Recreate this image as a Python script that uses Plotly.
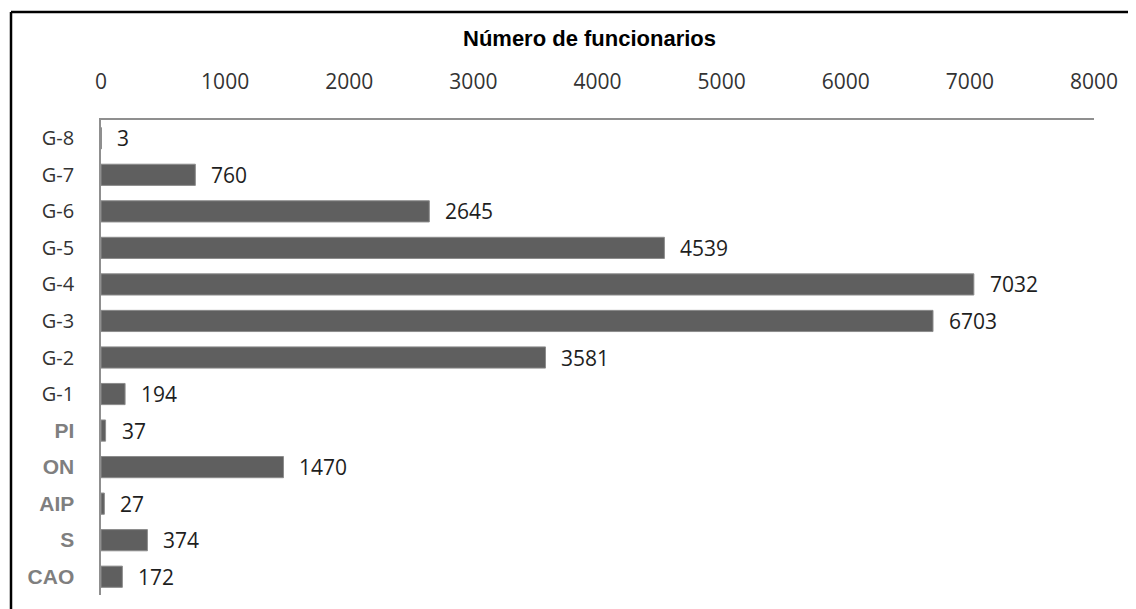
import plotly.graph_objects as go

categories = ["G-8", "G-7", "G-6", "G-5", "G-4", "G-3", "G-2", "G-1",
              "PI", "ON", "AIP", "S", "CAO"]
values = [3, 760, 2645, 4539, 7032, 6703, 3581, 194, 37, 1470, 27, 374, 172]
bold_grey = {"PI", "ON", "AIP", "S", "CAO"}
x_ticks = [0, 1000, 2000, 3000, 4000, 5000, 6000, 7000, 8000]

W, H = 1136, 609
# the page body adds an 8px offset, so figure coords = screen coords - 8
OFF = 8
L, T = 101 - OFF, 120 - OFF
R = W - (1094 - OFF)
B = H - (595 - OFF)
pw, ph = W - L - R, H - T - B

NUM_FONT = "Open Sans"
BOLD_FONT = "Liberation Sans"


def tick_label(cat):
    if cat in bold_grey:
        return (f"<span style='font-family:{BOLD_FONT};font-weight:bold;"
                f"font-size:21px;fill:#7f7f7f'>{cat}</span>")
    return cat


fig = go.Figure()
fig.add_trace(
    go.Bar(
        x=values,
        y=categories,
        orientation="h",
        marker=dict(color="#5f5f5f", line=dict(color="#8c8c8c", width=1)),
        hoverinfo="x+y",
        showlegend=False,
    )
)

# value labels just past the end of each bar
for cat, v in zip(categories, values):
    fig.add_annotation(
        x=v, y=cat, xref="x", yref="y",
        text=str(v), showarrow=False,
        xanchor="left", yanchor="middle", xshift=14,
        font=dict(family=NUM_FONT, size=21, color="#1e1e1e"),
    )

# chart title
fig.add_annotation(
    x=(589 - 101) / pw, y=1, xref="paper", yref="paper",
    text="<b>Número de funcionarios</b>", showarrow=False,
    xanchor="center", yanchor="middle", yshift=82,
    font=dict(family=BOLD_FONT, size=22, color="#000000"),
)

# black frame (left and top edges only are visible)
fx0 = (11 - 101) / pw
fy1 = 1 + (120 - 12) / ph
fig.add_shape(type="line", xref="paper", yref="paper",
              x0=fx0, x1=fx0, y0=-0.2, y1=fy1,
              line=dict(color="black", width=2.5))
fig.add_shape(type="line", xref="paper", yref="paper",
              x0=fx0, x1=1.2, y0=fy1, y1=fy1,
              line=dict(color="black", width=2.5))

fig.update_xaxes(
    side="top",
    range=[0, 8000],
    tickvals=x_ticks,
    ticktext=[str(t) for t in x_ticks],
    showgrid=False,
    zeroline=False,
    showline=True,
    linecolor="#8f8f8f",
    linewidth=1.5,
    ticks="",
    ticklabelstandoff=21,
    tickfont=dict(family=NUM_FONT, size=21, color="#333333"),
)
fig.update_yaxes(
    categoryorder="array",
    categoryarray=categories,
    tickvals=categories,
    ticktext=[tick_label(c) for c in categories],
    autorange="reversed",
    showgrid=False,
    zeroline=False,
    showline=True,
    linecolor="#8f8f8f",
    linewidth=1.5,
    ticks="",
    ticklabelstandoff=21,
    tickfont=dict(family=NUM_FONT, size=20, color="#333333"),
)

fig.update_layout(
    width=W,
    height=H,
    margin=dict(l=L, r=R, t=T, b=B),
    bargap=0.42,
    plot_bgcolor="white",
    paper_bgcolor="white",
)

fig.write_html("out.html")
